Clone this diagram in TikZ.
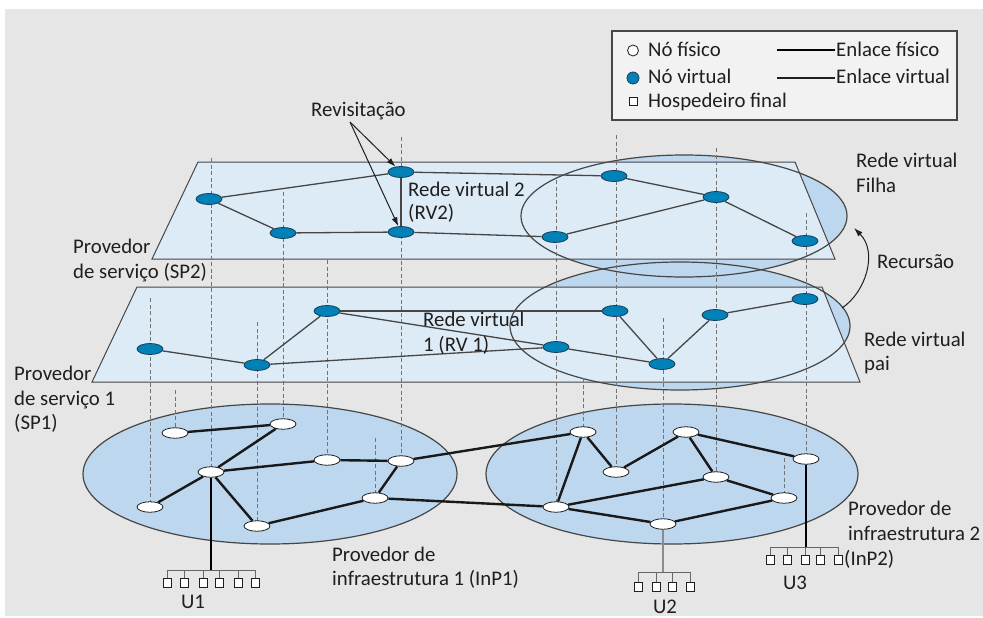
\documentclass[tikz,border=0pt]{standalone}
\usepackage{fontspec}
\setmainfont{Carlito}
\usetikzlibrary{shapes.geometric,arrows.meta}
\definecolor{bg}{RGB}{230,230,230}
\definecolor{planec}{RGB}{221,235,247}
\definecolor{ellc}{RGB}{189,215,238}
\definecolor{vblue}{RGB}{0,130,185}
\definecolor{vdraw}{RGB}{25,60,85}
\definecolor{ink}{RGB}{32,30,30}
\definecolor{legbg}{RGB}{242,242,242}
\definecolor{edge}{RGB}{70,70,70}
\pgfdeclarelayer{back}
\pgfdeclarelayer{mid}
\pgfsetlayers{back,mid,main}
\tikzset{
  vnode/.style={ellipse, minimum width=26pt, minimum height=11pt, inner sep=0pt, fill=vblue, draw=vdraw, line width=0.8pt},
  pnode/.style={ellipse, minimum width=26pt, minimum height=10.5pt, inner sep=0pt, fill=white, draw=ink, line width=0.8pt},
  vlink/.style={draw=edge, line width=1.3pt},
  plink/.style={draw=black!90, line width=2.4pt},
  maplink/.style={draw=black!55, line width=0.7pt, dash pattern=on 4pt off 2.5pt},
  planestyle/.style={fill=planec, draw=edge, line width=1pt},
  elloutline/.style={draw=edge, line width=1.2pt},
  lbl/.style={anchor=base west, inner sep=0pt, text=ink},
  clbl/.style={anchor=base, inner sep=0pt, text=ink},
  host/.style={rectangle, draw=ink, fill=white, minimum width=8pt, minimum height=9.5pt, inner sep=0pt, line width=0.8pt},
  bus/.style={draw=black!60, line width=0.9pt},
  arr/.style={draw=ink, line width=1pt, -{Latex[length=9pt,width=6pt]}}
}
\begin{document}
\begin{tikzpicture}[x=1pt,y=-1pt,font=\fontsize{20.8}{25}\selectfont]
\useasboundingbox (0,0) rectangle (983,618);

% ---------------- background layer ----------------
\begin{pgfonlayer}{back}
\fill[bg] (5,9) rectangle (983,616);
% region ellipses fills
\fill[ellc] (684,216) ellipse [x radius=163pt, y radius=61pt];
\fill[ellc] (680,326) ellipse [x radius=170pt, y radius=64pt];
% planes
\path[planestyle] (198,162) -- (795,162) -- (835,259) -- (152,259) -- cycle;
\path[planestyle] (137,287) -- (822,287) -- (860,382) -- (92,382) -- cycle;
% region ellipse outlines
\draw[elloutline] (684,216) ellipse [x radius=163pt, y radius=61pt];
\draw[elloutline] (680,326) ellipse [x radius=170pt, y radius=64pt];
% infrastructure ellipses
\path[fill=ellc, elloutline] (270,474) ellipse [x radius=187pt, y radius=70pt];
\path[fill=ellc, elloutline] (672,474) ellipse [x radius=186pt, y radius=70pt];
\end{pgfonlayer}

% ---------------- legend ----------------
\node[draw=edge, fill=legbg, line width=1.6pt, minimum width=345pt, minimum height=89pt, anchor=north west, inner sep=0pt] (legend) at (611,30) {};
\node[circle, fill=white, draw=ink, line width=0.8pt, minimum size=11pt, inner sep=0pt] (lgp) at (633,50.5) {};
\node[circle, fill=vblue, draw=vdraw, line width=0.8pt, minimum size=12pt, inner sep=0pt] (lgv) at (633,78) {};
\node[host, minimum width=8pt, minimum height=8pt] (lgh) at (633,101.5) {};
\node[lbl] (lt1) at (648,57) {Nó físico};
\node[lbl] (lt2) at (648,84) {Nó virtual};
\node[lbl] (lt3) at (648,107.5) {Hospedeiro final};
\node[lbl] (lt4) at (836,57) {Enlace físico};
\node[lbl] (lt5) at (836,84) {Enlace virtual};
\coordinate (lpa) at (777,50);
\coordinate (lpb) at (835,50);
\coordinate (lva) at (777,78);
\coordinate (lvb) at (835,78);
\draw[draw=black, line width=2.6pt] (lpa) -- (lpb);
\draw[draw=ink, line width=1.1pt] (lva) -- (lvb);

% ---------------- nodes ----------------
% SP2 virtual nodes
\node[vnode] (a1) at (209,199) {};
\node[vnode] (a2) at (283,233) {};
\node[vnode] (a3) at (401,172) {};
\node[vnode] (a4) at (401,232) {};
\node[vnode] (a5) at (614,176) {};
\node[vnode] (a6) at (716,197) {};
\node[vnode] (a7) at (555,237) {};
\node[vnode] (a8) at (805,241) {};
% SP1 virtual nodes
\node[vnode] (b1) at (150,349) {};
\node[vnode] (b2) at (257,365) {};
\node[vnode] (b3) at (327,311) {};
\node[vnode] (b4) at (556,347) {};
\node[vnode] (b5) at (615,311) {};
\node[vnode] (b6) at (662,364) {};
\node[vnode] (b7) at (715,315) {};
\node[vnode] (b8) at (805,299) {};
% InP1 physical nodes
\node[pnode] (c1) at (175,433) {};
\node[pnode] (c2) at (283,424) {};
\node[pnode] (c3) at (211,472) {};
\node[pnode] (c4) at (150,507) {};
\node[pnode] (c5) at (327,460) {};
\node[pnode] (c6) at (401,461) {};
\node[pnode] (c7) at (375,498) {};
\node[pnode] (c8) at (257,526) {};
% InP2 physical nodes
\node[pnode] (d1) at (583,432) {};
\node[pnode] (d2) at (556,507) {};
\node[pnode] (d3) at (616,472) {};
\node[pnode] (d4) at (686,432) {};
\node[pnode] (d5) at (806,459) {};
\node[pnode] (d6) at (716,477) {};
\node[pnode] (d7) at (784,498) {};
\node[pnode] (d8) at (663,524) {};

% ---------------- mapping (dashed) lines ----------------
\begin{pgfonlayer}{mid}
\foreach \n/\t in {c3/158, c2/192, c6/137, d2/180, d3/135, d6/148, d5/213, c4/298, c8/322, c5/260, d8/318, d1/378, c1/390, c7/438, d7/458} {
  \coordinate (top\n) at (\n |- 0,\t);
  \draw[maplink] (top\n) -- (\n.center);
}
\end{pgfonlayer}

% ---------------- virtual links ----------------
\draw[vlink] (a1) -- (a3);
\draw[vlink] (a1) -- (a2);
\draw[vlink] (a2) -- (a4);
\draw[vlink] (a3) -- (a4);
\draw[vlink] (a3) -- (a5);
\draw[vlink] (a4) -- (a7);
\draw[vlink] (a5) -- (a6);
\draw[vlink] (a7) -- (a6);
\draw[vlink] (a6) -- (a8);

\draw[vlink] (b1) -- (b2);
\draw[vlink] (b2) -- (b3);
\draw[vlink] (b3) -- (b5);
\draw[vlink] (b3) -- (b4);
\draw[vlink] (b2) -- (b4);
\draw[vlink] (b5) -- (b6);
\draw[vlink] (b4) -- (b6);
\draw[vlink] (b6) -- (b7);
\draw[vlink] (b7) -- (b8);

% ---------------- physical links ----------------
\draw[plink] (c1) -- (c2);
\draw[plink] (c2) -- (c3);
\draw[plink] (c3) -- (c4);
\draw[plink] (c3) -- (c5);
\draw[plink] (c5) -- (c6);
\draw[plink] (c3) -- (c8);
\draw[plink] (c8) -- (c7);
\draw[plink] (c7) -- (c6);
\draw[plink] (c6) -- (d1);
\draw[plink] (c7) -- (d2);
\draw[plink] (d1) -- (d2);
\draw[plink] (d1) -- (d3);
\draw[plink] (d3) -- (d4);
\draw[plink] (d4) -- (d5);
\draw[plink] (d4) -- (d6);
\draw[plink] (d6) -- (d2);
\draw[plink] (d6) -- (d7);
\draw[plink] (d7) -- (d8);
\draw[plink] (d2) -- (d8);

% ---------------- end hosts ----------------
\coordinate (u1l) at (167,570);
\coordinate (u1r) at (255,570);
\draw[bus] (u1l) -- (u1r);
\foreach \x [count=\i] in {167,184,203,219,238,255} {
  \node[host] (u1h\i) at (\x,583) {};
  \draw[bus] (u1h\i.north) -- (u1h\i.north |- u1l);
}
\draw[draw=black, line width=1.3pt] (c3) -- (c3 |- u1l);

\coordinate (u2l) at (638,572);
\coordinate (u2r) at (690,572);
\draw[bus] (u2l) -- (u2r);
\foreach \x [count=\i] in {638,656,672,690} {
  \node[host] (u2h\i) at (\x,587) {};
  \draw[bus] (u2h\i.north) -- (u2h\i.north |- u2l);
}
\draw[draw=black!45, line width=1.3pt] (d8) -- (d8 |- u2l);

\coordinate (u3l) at (770,547);
\coordinate (u3r) at (839,547);
\draw[bus] (u3l) -- (u3r);
\foreach \x [count=\i] in {770,787,805,820,838} {
  \node[host] (u3h\i) at (\x,560) {};
  \draw[bus] (u3h\i.north) -- (u3h\i.north |- u3l);
}
\draw[draw=black, line width=1.3pt] (d5) -- (d5 |- u3l);

% ---------------- labels ----------------
\node[lbl] (revis) at (311,116) {Revisitação};
\coordinate (revs) at (350,122);
\draw[arr] (revs) -- (a3);
\draw[arr] (revs) -- (a4);

\node[lbl] (rv2a) at (408,196) {Rede virtual 2};
\node[lbl] (rv2b) at (408,219) {(RV2)};
\node[lbl] (fila) at (856,167) {Rede virtual};
\node[lbl] (filb) at (856,192.5) {Filha};
\node[lbl] (recu) at (877,268) {Recursão};
\coordinate (rc1) at (842,308);
\coordinate (rc2) at (854,228);
\draw[arr] (rc1) .. controls (866,292) and (878,252) .. (rc2);

\node[lbl] (sp2a) at (73,253) {Provedor};
\node[lbl] (sp2b) at (73,278) {de serviço (SP2)};
\node[lbl] (sp1a) at (14,380) {Provedor};
\node[lbl] (sp1b) at (14,405) {de serviço 1};
\node[lbl] (sp1c) at (14,429) {(SP1)};
\node[lbl] (rv1a) at (423,326) {Rede virtual};
\node[lbl] (rv1b) at (423,351) {1 (RV 1)};
\node[lbl] (paia) at (864,346) {Rede virtual};
\node[lbl] (paib) at (864,370) {pai};
\node[lbl] (inp1a) at (332,561) {Provedor de};
\node[lbl] (inp1b) at (332,585) {infraestrutura 1 (InP1)};
\node[lbl] (inp2a) at (848,515) {Provedor de};
\node[lbl] (inp2b) at (848,540) {infraestrutura 2};
\node[lbl] (inp2c) at (844,565) {(InP2)};
\node[clbl] (u1) at (193,608) {U1};
\node[clbl] (u2) at (665,613) {U2};
\node[clbl] (u3) at (795,589) {U3};
\end{tikzpicture}
\end{document}
